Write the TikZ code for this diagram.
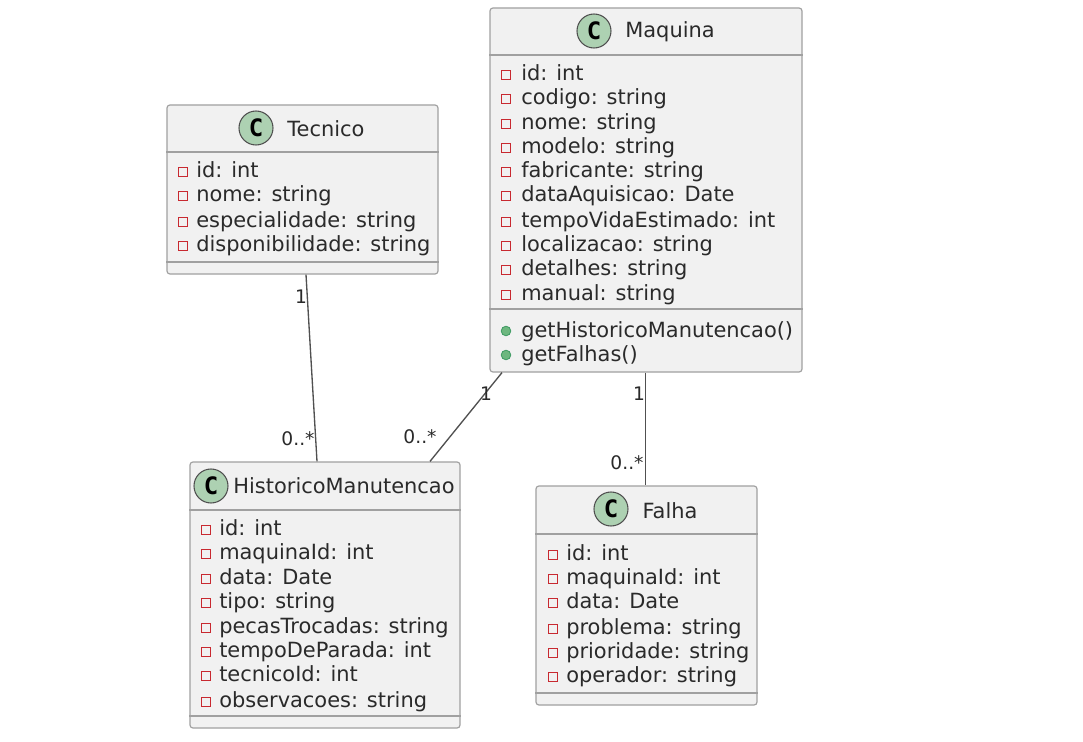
\documentclass[tikz,border=0pt]{standalone}
\usepackage{xcolor}
\usepackage{fontspec}
\setmainfont{DejaVu Sans}
\newfontfamily\badgefont{DejaVu Sans Mono}
\usetikzlibrary{positioning, calc}
\definecolor{Canvas}{HTML}{FFFFFF}
\definecolor{Panel}{HTML}{F1F1F1}
\definecolor{Line}{HTML}{A0A0A0}
\definecolor{Link}{HTML}{505050}
\definecolor{Badge}{HTML}{ADD1B2}
\definecolor{Text}{HTML}{2A2A2A}
\definecolor{PrivRed}{HTML}{C82930}
\definecolor{PubGreen}{HTML}{6DB77F}
\definecolor{PubLine}{HTML}{3D9A62}

\begin{document}
\begin{tikzpicture}[x=0.75pt,y=-0.75pt,font=\fontsize{15.7}{18}\selectfont,text=Text,
classbox/.style={draw=Line,fill=Panel,rounded corners=2.2pt,line width=0.9pt,inner sep=0pt},
divider/.style={draw=Line,line width=0.9pt},
badge/.style={circle,draw=Link,fill=Badge,line width=0.8pt,minimum size=25.5pt,inner sep=0pt,font=\fontsize{18}{18}\badgefont\bfseries,text=black},
classname/.style={font=\fontsize{15.7}{18}\selectfont,inner sep=0pt},
member/.style={anchor=base west,inner sep=0pt},
privmark/.style={draw=PrivRed,line width=0.8pt,fill=Panel,minimum size=6.8pt,inner sep=0pt},
pubmark/.style={circle,draw=PubLine,line width=0.6pt,fill=PubGreen,minimum size=7.2pt,inner sep=0pt},
assoc/.style={draw=Link,line width=1pt},
mult/.style={font=\fontsize{14}{16}\selectfont,inner sep=0pt}]
\fill[Canvas] (0,0) rectangle (1083,742);
\useasboundingbox (0,0) rectangle (1083,742);
% class boxes
\node[classbox,minimum width=203.25pt,minimum height=126.75pt] (tecnico) at (302.5,189.5){};
\node[classbox,minimum width=234pt,minimum height=273pt] (maquina) at (646,190){};
\node[classbox,minimum width=202.5pt,minimum height=199.5pt] (historico) at (325,595){};
\node[classbox,minimum width=165.75pt,minimum height=164.25pt] (falha) at (646.5,595.5){};
% dividers
\draw[divider] (tecnico.west|-0,152) -- (tecnico.east|-0,152);\draw[divider] (tecnico.west|-0,262) -- (tecnico.east|-0,262);
\draw[divider] (maquina.west|-0,55) -- (maquina.east|-0,55);\draw[divider] (maquina.west|-0,309) -- (maquina.east|-0,309);
\draw[divider] (historico.west|-0,510) -- (historico.east|-0,510);\draw[divider] (historico.west|-0,716) -- (historico.east|-0,716);
\draw[divider] (falha.west|-0,534) -- (falha.east|-0,534);\draw[divider] (falha.west|-0,693) -- (falha.east|-0,693);
% headers
\node[badge] (tecnicoC) at (256,128){C};\node[classname] (tecnicoName) at (326,128.5){Tecnico};
\node[badge] (maquinaC) at (594,31){C};\node[classname] (maquinaName) at (670,31.5){Maquina};
\node[badge] (historicoC) at (211,486){C};\node[classname] (historicoName) at (344,485.5){HistoricoManutencao};
\node[badge] (falhaC) at (611,509){C};\node[classname] (falhaName) at (670,510.5){Falha};
% members
\foreach \i/\y/\txt in {1/177.7/id: int,2/201.7/nome: string,3/227.7/especialidade: string,4/251.7/disponibilidade: string}{
\node[member] (tec\i) at (196,\y){\txt};\node[privmark] (tecm\i) at (183,\y-5.5){};}
\foreach \i/\y/\txt in {1/80.7/id: int,2/104.7/codigo: string,3/129.7/nome: string,4/153.7/modelo: string,5/177.7/fabricante: string,6/201.7/dataAquisicao: Date,7/227.7/tempoVidaEstimado: int,8/251.7/localizacao: string,9/275.7/detalhes: string,10/300.7/manual: string}{
\node[member] (maq\i) at (521,\y){\txt};\node[privmark] (maqm\i) at (506,\y-5.5){};}
\foreach \i/\y/\txt in {1/337/getHistoricoManutencao(),2/361/getFalhas()}{
\node[member] (met\i) at (521,\y){\txt};\node[pubmark] (metm\i) at (506,\y-6){};}
\foreach \i/\y/\txt in {1/535.7/id: int,2/559.7/maquinaId: int,3/584.7/data: Date,4/608.7/tipo: string,5/633.7/pecasTrocadas: string,6/657.7/tempoDeParada: int,7/681.7/tecnicoId: int,8/707.7/observacoes: string}{
\node[member] (his\i) at (219,\y){\txt};\node[privmark] (hism\i) at (206,\y-5.5){};}
\foreach \i/\y/\txt in {1/560.7/id: int,2/584.7/maquinaId: int,3/608.7/data: Date,4/634.7/problema: string,5/658.7/prioridade: string,6/682.7/operador: string}{
\node[member] (fal\i) at (566,\y){\txt};\node[privmark] (falm\i) at (553,\y-5.5){};}
% associations
\draw[assoc] (tecnico.south) ++(3.5,0) -- ($(historico.north)+(-8,0)$);
\draw[assoc] (maquina.south) ++(-144,0) -- ($(historico.north)+(105,0)$);
\draw[assoc] (maquina.south) ++(-0.5,0) -- ($(falha.north)+(-1,0)$);
\node[mult] (m1) at (301,297){1};\node[mult] (m2) at (298,439){0..*};
\node[mult] (m3) at (486,394){1};\node[mult] (m4) at (420,437){0..*};
\node[mult] (m5) at (639,394){1};\node[mult] (m6) at (627,463){0..*};
\end{tikzpicture}
\end{document}
